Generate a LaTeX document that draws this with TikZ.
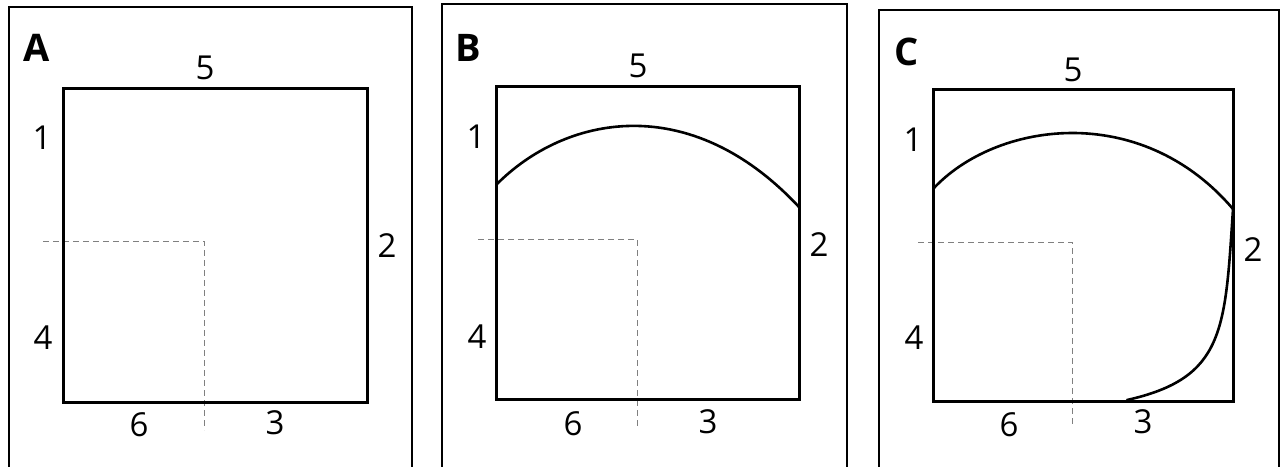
\documentclass[tikz,border=0pt]{standalone}
\usepackage{fontspec}
\setmainfont{Open Sans}
\begin{document}
\begin{tikzpicture}[x=1pt,y=-1pt,
  frame/.style={line width=2.8pt,black},
  sq/.style={line width=3pt,black},
  guide/.style={line width=0.9pt,gray,dash pattern=on 6pt off 4pt},
  curve/.style={line width=2.6pt,black,line cap=round},
  num/.style={font=\fontsize{33}{33}\selectfont,inner sep=0pt},
  letter/.style={font=\fontsize{38}{38}\selectfont\bfseries,inner sep=0pt}]
\useasboundingbox (0,0) rectangle (1281,466);
\clip (0,0) rectangle (1281,466);
% Panel A
\draw[frame] (9,7) rectangle (412,480);
\draw[guide] (43,241) -- (204,241) -- (204,430);
\draw[sq] (63,88) rectangle (367,402);
\node[letter] (lA) at (37,48) {A};
\node[num] (a5) at (205,68) {5};
\node[num] (a1) at (42,138) {1};
\node[num] (a2) at (387,246) {2};
\node[num] (a4) at (43,338) {4};
\node[num] (a6) at (139,425) {6};
\node[num] (a3) at (275,423) {3};
% Panel B
\draw[frame] (442,4) rectangle (847,480);
\draw[guide] (478,239) -- (637,239) -- (637,427);
\draw[sq] (496,86) rectangle (799,399);
\draw[curve] (496,185) .. controls (565,115) and (690,90) .. (799,207);
\node[letter] (lB) at (468,48) {B};
\node[num] (b5) at (638,66) {5};
\node[num] (b1) at (476,137) {1};
\node[num] (b2) at (819,245) {2};
\node[num] (b4) at (477,337) {4};
\node[num] (b6) at (573,424) {6};
\node[num] (b3) at (708,422) {3};
% Panel C
\draw[frame] (879,10) rectangle (1279,480);
\draw[guide] (918,242) -- (1072,242) -- (1072,427);
\draw[sq] (933,89) rectangle (1233,401);
\draw[curve] (933,189) .. controls (995,122) and (1140,100) .. (1233,209);
\draw[curve] (1233,209) .. controls (1225,330) and (1225,378) .. (1127,400);
\node[letter] (lC) at (907,52) {C};
\node[num] (c5) at (1073,70) {5};
\node[num] (c1) at (913,140) {1};
\node[num] (c2) at (1253,250) {2};
\node[num] (c4) at (914,338) {4};
\node[num] (c6) at (1009,425) {6};
\node[num] (c3) at (1143,422) {3};
\end{tikzpicture}
\end{document}
